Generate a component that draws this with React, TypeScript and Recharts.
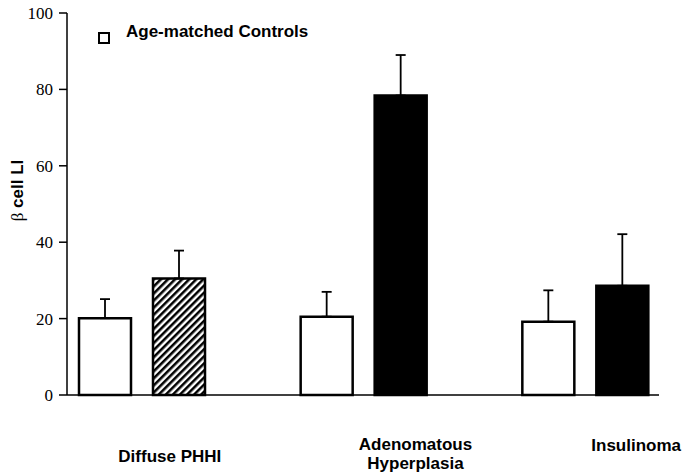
import { BarChart, Bar, XAxis, YAxis, ErrorBar, Legend, Cell, Label } from "recharts";

const categories = ["Diffuse PHHI", "Adenomatous\nHyperplasia", "Insulinoma"];
const controlValues = [20.1, 20.5, 19.2];
const controlErrors = [5.0, 6.5, 8.2];
const lesionValues = [30.5, 78.4, 28.6];
const lesionErrors = [7.3, 10.6, 13.5];
const yTicks = [0, 20, 40, 60, 80, 100];

// error bars only go upward, so low side is 0
const data = categories.map((name, i) => ({
  name,
  control: controlValues[i],
  controlErr: [0, controlErrors[i]],
  lesion: lesionValues[i],
  lesionErr: [0, lesionErrors[i]],
}));

const SANS = "Liberation Sans";
const SERIF = "Liberation Serif";

// the category labels sit right of their bar groups in the original
const LABEL_SHIFT: Record<string, [number, number]> = {
  "Diffuse PHHI": [28, 67],
  "Adenomatous\nHyperplasia": [52, 55],
  Insulinoma: [51, 56],
};

const renderCategoryTick = (props: any) => {
  const { x, y, payload } = props;
  const [dx, dy] = LABEL_SHIFT[payload.value] ?? [0, 20];
  const lines = String(payload.value).split("\n");
  return (
    <text
      x={x + dx}
      y={y + dy}
      textAnchor="middle"
      fontFamily={SANS}
      fontWeight="bold"
      fontSize={17}
      fill="#000"
    >
      {lines.map((l, i) => (
        <tspan key={l} x={x + dx} dy={i === 0 ? 0 : 19}>
          {l}
        </tspan>
      ))}
    </text>
  );
};

const renderValueTick = (props: any) => {
  const { x, y, payload } = props;
  return (
    <text
      key={payload.value}
      x={x}
      y={y + 6}
      textAnchor="end"
      fill="#000"
      fontFamily={SERIF}
      fontSize={17}
    >
      {payload.value}
    </text>
  );
};

const renderYTitle = (props: any) => {
  const { x, y, height } = props.viewBox;
  const cx = x + 22.5;
  const cy = y + height / 2 - 13.5;
  return (
    <text
      x={cx}
      y={cy}
      transform={`rotate(-90, ${cx}, ${cy})`}
      textAnchor="middle"
      fill="#000"
      fontSize={17}
    >
      <tspan fontFamily={SERIF}>β</tspan>
      <tspan fontFamily={SANS} fontWeight="bold"> cell LI</tspan>
    </text>
  );
};

function LegendContent(props: any) {
  const payload = (props.payload ?? []).filter((p: any) => p.dataKey === "control");
  return (
    <div>
      {payload.map((p: any) => (
        <div key={p.value} style={{ display: "flex", alignItems: "flex-start" }}>
          <span
            style={{
              display: "inline-block",
              width: 12,
              height: 12,
              boxSizing: "border-box",
              border: "2.5px solid #000",
              marginTop: 9.5,
              marginRight: 16,
            }}
          />
          <span
            style={{
              fontFamily: SANS,
              fontWeight: "bold",
              fontSize: 17,
              color: "#000",
              whiteSpace: "nowrap",
            }}
          >
            {p.value}
          </span>
        </div>
      ))}
    </div>
  );
}

export default function App() {
  return (
    <div style={{ position: "absolute", left: 0, top: 0 }}>
      <BarChart
        width={684}
        height={474}
        data={data}
        margin={{ top: 13, right: 25, bottom: 0, left: 0 }}
        barSize={52}
        barGap={22}
      >
        <defs>
          <pattern
            id="hatch"
            width="5"
            height="5"
            patternUnits="userSpaceOnUse"
            patternTransform="rotate(45)"
          >
            <rect width="5" height="5" fill="#fff" />
            <line x1="1.25" y1="0" x2="1.25" y2="5" stroke="#000" strokeWidth="2.6" />
          </pattern>
        </defs>
        <XAxis
          dataKey="name"
          height={79}
          padding={{ left: -36, right: -37 }}
          interval={0}
          tickLine={false}
          tickSize={0}
          tickMargin={0}
          axisLine={{ stroke: "#000", strokeWidth: 1.5 }}
          tick={renderCategoryTick}
        />
        <YAxis
          domain={[0, 100]}
          ticks={yTicks}
          interval={0}
          width={67}
          tickSize={8}
          tickMargin={6}
          axisLine={{ stroke: "#000", strokeWidth: 1.5 }}
          tickLine={{ stroke: "#000", strokeWidth: 1.5 }}
          tick={renderValueTick}
        >
          <Label content={renderYTitle} />
        </YAxis>
        <Legend
          layout="vertical"
          align="center"
          verticalAlign="middle"
          wrapperStyle={{ left: 98, top: 22 }}
          content={<LegendContent />}
        />
        <Bar
          dataKey="control"
          name="Age-matched Controls"
          fill="#fff"
          stroke="#000"
          strokeWidth={2.5}
          isAnimationActive={false}
        >
          <ErrorBar dataKey="controlErr" width={5} stroke="#000" strokeWidth={1.8} />
        </Bar>
        <Bar
          dataKey="lesion"
          name="Lesion"
          legendType="none"
          stroke="#000"
          strokeWidth={2.5}
          isAnimationActive={false}
        >
          {data.map((d, i) => (
            <Cell key={d.name} fill={i === 0 ? "url(#hatch)" : "#000"} />
          ))}
          <ErrorBar dataKey="lesionErr" width={5} stroke="#000" strokeWidth={1.8} />
        </Bar>
      </BarChart>
    </div>
  );
}
